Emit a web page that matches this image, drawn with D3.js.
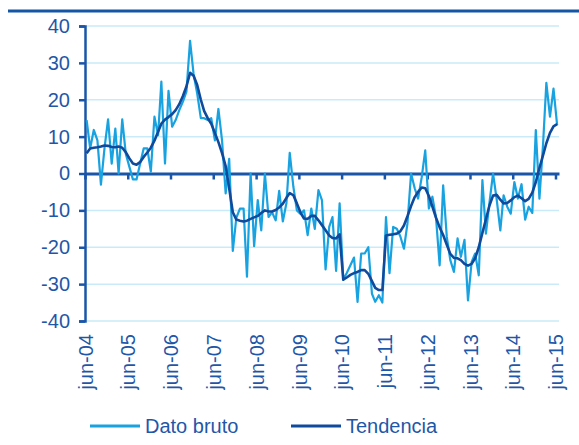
<!DOCTYPE html>
<html>
<head>
<meta charset="utf-8">
<script src="https://cdn.jsdelivr.net/npm/d3@7"></script>
<style>
  body { margin: 0; background: #fff; }
  text { font-family: "Liberation Sans", Arial, sans-serif; }
</style>
</head>
<body>
<div id="chart"></div>
<script>
// monthly values, jun-04 .. jun-15
const datoBruto = [
  14.5, 6.8, 11.8, 9, -3, 7, 14.7, 2.7, 12.2, 0, 14.7, 5.4,
  1.8, -1.6, -1.6, 2.7, 6.8, 6.8, 0.5, 15.4, 10.4, 24.9, 2.7, 22.4,
  12.7, 14.5, 17.2, 19.5, 22.2, 36, 27, 21.7, 15, 15, 14.5, 15,
  9, 17.5, 9, -5.4, 4, -21, -12, -9.5, -9.5, -28, 0, -19.7,
  -7.2, -15.4, 0, -11.8, -10.5, -12.7, -4.7, -13, -8, 5.6, -3.6, -10,
  -11, -10, -16.7, -9.5, -15, -4.5, -7.2, -26, -14.5, -11.8, -26.4, -8.1,
  -28.8, -27, -24.9, -22.8, -34.8, -21.7, -21.7, -20, -32.6, -34.8, -33, -35,
  -11.8, -27, -14.5, -15, -17, -20.4, -13.6, 0, -4, -6.8, -1, 6.3,
  -9.5, -6.3, -12, -24.9, -3.2, -17.2, -23.5, -26.7, -17.6, -22.6, -18, -34.4,
  -24, -21.7, -27.6, -1.8, -16.3, -7.7, 0, -7, -15.4, -5.9, -9, -10.9,
  -2.3, -6.8, -2.9, -12.5, -9, -10.7, 11.8, -6.8, 8, 24.6, 15.4, 23,
  13.1
];
const tendencia = [
  5.5, 6.8, 7, 7.1, 7.3, 7.6, 7.5, 7.2, 7.1, 7.3, 7, 5.8,
  4.1, 2.7, 2.4, 3.1, 4.5, 5.7, 7, 8.9, 11.3, 13.5, 14.6, 15.3,
  16.1, 17.2, 18.8, 21, 23.6, 27.3, 26.5, 24, 20, 17, 15, 13.5,
  11, 8.5, 5.5, 2, -4, -10.5, -12.5, -12.8, -13, -12.8, -12.3, -11.9,
  -11.5, -10.7, -10, -10.3, -10.3, -9.9, -9.2, -8.2, -6.6, -5.3, -5.9, -8.1,
  -10.6, -12.2, -12.3, -11.5, -11.5, -12.7, -14, -15.4, -16.8, -17.5, -17.6, -16.5,
  -28.8, -28.2, -27.5, -27, -26.7, -26.2, -26.2, -27.2, -29.2, -31, -31.6, -31.6,
  -16.8, -16.6, -16.5, -16.3, -15.7, -14.1, -11.6, -8.8, -6.4, -5, -3.8, -4,
  -6.1, -9, -12, -14.6, -16.7, -19.3, -21.8, -22.9, -23, -23.5, -24.5, -25,
  -24.5, -23, -20, -16.1, -12.4, -8.6, -6, -5.8, -7.1, -8.1, -8, -7.3,
  -6.4, -6, -6.7, -7.5, -6.9, -5.2, -2.3, 1.5, 5, 8.2, 11, 12.8,
  13.4
];
const xTickLabels = ["jun-04", "jun-05", "jun-06", "jun-07", "jun-08", "jun-09",
  "jun-10", "jun-11", "jun-12", "jun-13", "jun-14", "jun-15"];
const yTicks = [-40, -30, -20, -10, 0, 10, 20, 30, 40];
const seriesNames = ["Dato bruto", "Tendencia"];

const width = 579, height = 445;
const colRaw = "#19a2e0", colTrend = "#0f4a9c", colAxis = "#1a55a8",
      colGrid = "#c9ebf9", colText = "#1f57a8";

const svg = d3.select("#chart").append("svg")
  .attr("width", width)
  .attr("height", height);

// header rule at the top
svg.append("line")
  .attr("x1", 8).attr("x2", width)
  .attr("y1", 11).attr("y2", 11)
  .attr("stroke", "#1555a5")
  .attr("stroke-width", 3);

const monthDate = i => new Date(2004, 5 + i, 15);
const tickDates = xTickLabels.map((d, i) => new Date(2004 + i, 5, 1));

const x = d3.scaleTime()
  .domain([new Date(2004, 5, 1), new Date(2015, 6, 1)])
  .range([85, 559]);

const y = d3.scaleLinear()
  .domain([-40, 40])
  .range([321, 26]);

// horizontal grid
svg.append("g")
  .selectAll("line")
  .data(yTicks.filter(d => d !== 0))
  .enter().append("line")
  .attr("x1", x.range()[0]).attr("x2", x.range()[1])
  .attr("y1", d => y(d)).attr("y2", d => y(d))
  .attr("stroke", colGrid)
  .attr("stroke-width", 1.5);

// Y axis
const yAxis = svg.append("g")
  .attr("transform", `translate(${x.range()[0]},0)`)
  .call(d3.axisLeft(y).tickValues(yTicks).tickFormat(d => String(d)).tickSize(6).tickPadding(9));
yAxis.select(".domain").attr("stroke", colAxis).attr("stroke-width", 2.5);
yAxis.selectAll(".tick line").attr("stroke", colAxis).attr("stroke-width", 2.5);
yAxis.selectAll(".tick text")
  .attr("fill", colText)
  .style("font-size", "20px");

// X axis on the zero line
const xAxis = svg.append("g")
  .attr("transform", `translate(0,${y(0)})`)
  .call(d3.axisBottom(x)
    .tickValues(tickDates)
    .tickFormat((d, i) => xTickLabels[i])
    .tickSize(6)
    .tickSizeOuter(0));
xAxis.select(".domain").attr("stroke", colAxis).attr("stroke-width", 3);
xAxis.selectAll(".tick line").attr("stroke", colAxis).attr("stroke-width", 2.5);
xAxis.selectAll(".tick text")
  .attr("fill", colText)
  .style("font-size", "20px")
  .attr("text-anchor", "end")
  .attr("transform", `translate(0,${334 - y(0)}) rotate(-90)`)
  .attr("x", 0)
  .attr("y", 0)
  .attr("dy", "0.36em");

// lines
const line = d3.line()
  .x((d, i) => x(monthDate(i)))
  .y(d => y(d));

svg.append("path")
  .datum(datoBruto)
  .attr("fill", "none")
  .attr("stroke", colRaw)
  .attr("stroke-width", 2.2)
  .attr("stroke-linejoin", "round")
  .attr("d", line);

svg.append("path")
  .datum(tendencia)
  .attr("fill", "none")
  .attr("stroke", colTrend)
  .attr("stroke-width", 2.6)
  .attr("stroke-linejoin", "round")
  .attr("d", line);

// legend
const legend = svg.append("g").attr("transform", "translate(0,426)");
const legendX = [90, 291];
[colRaw, colTrend].forEach((c, i) => {
  legend.append("line")
    .attr("x1", legendX[i]).attr("x2", legendX[i] + 50)
    .attr("y1", 0).attr("y2", 0)
    .attr("stroke", c)
    .attr("stroke-width", 3);
  legend.append("text")
    .attr("x", legendX[i] + 55)
    .attr("y", 6.5)
    .attr("fill", colText)
    .style("font-size", "20px")
    .text(seriesNames[i]);
});
</script>
</body>
</html>
